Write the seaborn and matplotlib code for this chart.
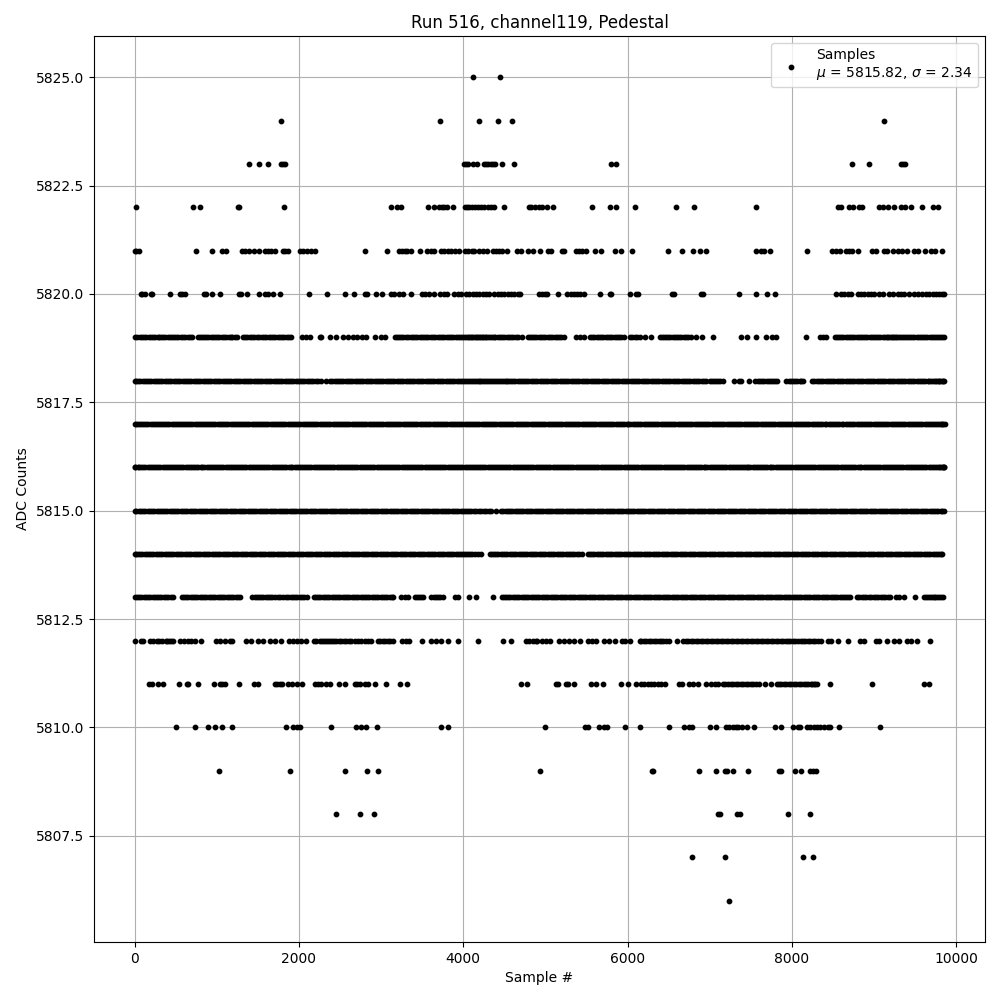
import pandas as pd
import matplotlib
matplotlib.use("Agg")
import matplotlib.pyplot as plt
import seaborn as sns

# sample numbers, one list per ADC level
x_5825 = [4115, 4443]
x_5824 = [1782, 3714, 4188, 4419, 4589, 9115]
x_5823 = [1393, 1515, 1624, 1786, 1806, 1835, 4005, 4030, 4054, 4115, 4164, 4248, 4277, 4305, 4334, 4358, 4386, 4467,
          4613, 5802, 5855, 8735, 8933, 9325, 9345, 9369]
x_5822 = [20, 713, 798, 1255, 1270, 1818, 3118, 3191, 3244, 3576, 3641, 3710, 3742, 3770, 3799, 3872, 4018, 4042, 4074,
          4107, 4139, 4175, 4216, 4256, 4297, 4337, 4378, 4491, 4795, 4820, 4876, 4917, 4954, 5022, 5091, 5564, 5790,
          5855, 6085, 6594, 6812, 7563, 8557, 8597, 8699, 8739, 8820, 8852, 9054, 9103, 9167, 9236, 9325, 9377, 9446,
          9583, 9721, 9781]
x_5821 = [0, 24, 53, 749, 944, 1069, 1110, 1304, 1345, 1393, 1454, 1515, 1584, 1624, 1665, 1705, 1806, 1835, 1867, 2009,
          2049, 2098, 2151, 2199, 2803, 3070, 3224, 3256, 3285, 3317, 3366, 3471, 3556, 3608, 3649, 3730, 3770, 3811,
          3852, 3904, 3945, 4022, 4054, 4107, 4135, 4188, 4236, 4289, 4358, 4398, 4439, 4471, 4528, 4649, 4702, 4783,
          4848, 4933, 5030, 5071, 5196, 5224, 5374, 5414, 5447, 5495, 5600, 5673, 5851, 5915, 6053, 6485, 6659, 6800,
          6885, 6949, 7563, 7628, 7660, 7737, 8182, 8489, 8529, 8586, 8658, 8699, 8731, 8800, 8969, 9022, 9115, 9151,
          9224, 9285, 9337, 9398, 9487, 9527, 9620, 9689, 9741, 9822]
x_5820 = [73, 97, 126, 200, 215, 433, 551, 583, 620, 842, 875, 944, 1041, 1268, 1300, 1369, 1515, 1584, 1624, 1685,
          1770, 2122, 2341, 2560, 2669, 2799, 2831, 2936, 3009, 3122, 3163, 3224, 3264, 3366, 3499, 3540, 3580, 3641,
          3714, 3770, 3799, 3892, 3933, 3973, 4034, 4074, 4115, 4155, 4196, 4236, 4277, 4309, 4378, 4419, 4459, 4500,
          4540, 4581, 4621, 4661, 4694, 4917, 4961, 4990, 5022, 5148, 5265, 5305, 5346, 5386, 5418, 5467, 5661, 5782,
          5798, 6024, 6105, 6125, 6545, 6565, 6889, 6913, 7357, 7563, 7697, 7794, 8533, 8597, 8638, 8678, 8719, 8800,
          8840, 8881, 8921, 8961, 9002, 9054, 9111, 9175, 9224, 9285, 9325, 9365, 9426, 9487, 9527, 9579, 9628, 9668,
          9709, 9749, 9790, 9830, 9854]
x_5819 = [0, 28, 61, 118, 172, 225, 283, 322, 376, 430, 481, 534, 590, 648, 702, 770, 818, 868, 925, 978, 1032, 1090,
          1145, 1192, 1248, 1320, 1372, 1428, 1490, 1550, 1602, 1660, 1715, 1770, 1824, 1880, 1908, 2041, 2090, 2138,
          2255, 2275, 2373, 2446, 2535, 2596, 2657, 2710, 2765, 2819, 2932, 3001, 3050, 3167, 3220, 3272, 3330, 3385,
          3440, 3495, 3550, 3602, 3660, 3715, 3770, 3822, 3880, 3934, 3990, 4030, 4075, 4112, 4150, 4188, 4225, 4262,
          4300, 4345, 4392, 4446, 4500, 4552, 4610, 4665, 4710, 4783, 4835, 4890, 4945, 5000, 5055, 5110, 5165, 5224,
          5374, 5420, 5467, 5539, 5592, 5650, 5702, 5760, 5812, 5870, 5925, 5951, 6032, 6085, 6150, 6214, 6283, 6388,
          6440, 6490, 6550, 6600, 6655, 6710, 6770, 6830, 6900, 7034, 7382, 7454, 7567, 7689, 7757, 7810, 8169, 8343,
          8375, 8408, 8517, 8570, 8625, 8680, 8732, 8785, 8838, 8890, 8945, 8998, 9050, 9102, 9150, 9190, 9232, 9270,
          9312, 9360, 9410, 9462, 9515, 9570, 9622, 9675, 9728, 9780, 9830, 9850]
x_5819_fill = [90, 145, 198, 254, 302, 350, 403, 456, 508, 562, 619, 675, 794, 843, 897, 951, 1005, 1061, 1118, 1168,
               1220, 1346, 1400, 1459, 1520, 1576, 1631, 1688, 1743, 1797, 1852, 3194, 3246, 3301, 3358, 3413, 3468,
               3523, 3576, 3631, 3688, 3743, 3796, 3851, 3907, 3962, 4010, 4052, 4094, 4131, 4169, 4207, 4244, 4281,
               4322, 4369, 4419, 4473, 4526, 4581, 4638, 4809, 4862, 4918, 4972, 5028, 5083, 5138, 5195, 5565, 5621,
               5676, 5731, 5786, 5841, 5898, 6058, 6118, 6414, 6465, 6520, 6575, 6628, 6683, 6740, 8544, 8598, 8652,
               8706, 8759, 8812, 8864, 8918, 8972, 9024, 9076, 9126, 9170, 9211, 9251, 9291, 9336, 9385, 9436, 9488,
               9542, 9596, 9648, 9701, 9754, 9805]
x_5818 = [0, 22, 70, 126, 178, 232, 288, 340, 392, 450, 503, 558, 612, 665, 720, 775, 828, 882, 936, 990, 1044, 1098,
          1152, 1206, 1260, 1314, 1368, 1422, 1476, 1530, 1584, 1638, 1692, 1746, 1800, 1852, 1906, 1960, 2014, 2068,
          2122, 2176, 2230, 2272, 2333, 2381, 2434, 2488, 2542, 2596, 2650, 2704, 2758, 2812, 2866, 2920, 2974, 3028,
          3082, 3136, 3190, 3244, 3298, 3352, 3406, 3460, 3514, 3568, 3622, 3676, 3730, 3784, 3838, 3892, 3946, 4000,
          4048, 4096, 4140, 4186, 4232, 4278, 4324, 4370, 4418, 4466, 4514, 4562, 4610, 4660, 4712, 4766, 4820, 4874,
          4928, 4982, 5036, 5090, 5144, 5198, 5252, 5306, 5360, 5414, 5468, 5522, 5576, 5630, 5684, 5738, 5792, 5846,
          5900, 5954, 6008, 6062, 6116, 6170, 6224, 6278, 6332, 6386, 6440, 6494, 6548, 6602, 6656, 6710, 6764, 6818,
          6872, 6926, 6953, 7002, 7050, 7103, 7155, 7293, 7357, 7374, 7478, 7555, 7610, 7664, 7718, 7772, 7818, 7931,
          7985, 8039, 8093, 8133, 8246, 8300, 8354, 8408, 8462, 8516, 8570, 8624, 8678, 8732, 8786, 8840, 8894, 8948,
          9002, 9056, 9110, 9164, 9218, 9272, 9326, 9380, 9434, 9488, 9542, 9596, 9650, 9695, 9735, 9770, 9800, 9825,
          9842, 9853]
x_5818_fill = [47, 98, 152, 205, 260, 314, 366, 421, 476, 530, 585, 638, 692, 747, 801, 855, 909, 963, 1017, 1071,
               1125, 1179, 1233, 1287, 1341, 1395, 1449, 1503, 1557, 1611, 1665, 1719, 1773, 1826, 1879, 1933, 1987,
               2041, 2095, 2149, 2203, 2407, 2461, 2515, 2569, 2623, 2677, 2731, 2785, 2839, 2893, 2947, 3001, 3055,
               3109, 3163, 3217, 3271, 3325, 3379, 3433, 3487, 3541, 3595, 3649, 3703, 3757, 3811, 3865, 3919, 3973,
               4024, 4072, 4118, 4163, 4209, 4255, 4301, 4347, 4394, 4442, 4490, 4538, 4586, 4635, 4686, 4739, 4793,
               4847, 4901, 4955, 5009, 5063, 5117, 5171, 5225, 5279, 5333, 5387, 5441, 5495, 5549, 5603, 5657, 5711,
               5765, 5819, 5873, 5927, 5981, 6035, 6089, 6143, 6197, 6251, 6305, 6359, 6413, 6467, 6521, 6575, 6629,
               6683, 6737, 6791, 6845, 6899, 7026, 7076, 7129, 7583, 7637, 7691, 7745, 7795, 7958, 8012, 8066, 8113,
               8273, 8327, 8381, 8435, 8489, 8543, 8597, 8651, 8705, 8759, 8813, 8867, 8921, 8975, 9029, 9083, 9137,
               9191, 9245, 9299, 9353, 9407, 9461, 9515, 9569, 9623, 9672, 9715, 9752, 9785]
x_5817 = [0, 14, 42, 95, 140, 198, 246, 301, 352, 396, 451, 503, 548, 604, 655, 702, 758, 806, 861, 909, 957, 1012,
          1065, 1113, 1170, 1219, 1266, 1322, 1371, 1424, 1473, 1528, 1579, 1627, 1684, 1732, 1786, 1835, 1891, 1940,
          1992, 2046, 2094, 2150, 2199, 2253, 2305, 2352, 2410, 2458, 2511, 2563, 2612, 2668, 2716, 2771, 2820, 2875,
          2923, 2978, 3027, 3082, 3131, 3186, 3235, 3290, 3338, 3394, 3443, 3497, 3546, 3601, 3650, 3705, 3754, 3808,
          3857, 3912, 3961, 4016, 4065, 4120, 4168, 4223, 4272, 4327, 4376, 4431, 4480, 4534, 4583, 4638, 4687, 4742,
          4790, 4845, 4894, 4949, 4998, 5053, 5101, 5156, 5205, 5260, 5309, 5364, 5412, 5467, 5516, 5571, 5620, 5675,
          5723, 5778, 5827, 5882, 5931, 5986, 6034, 6089, 6138, 6193, 6242, 6297, 6345, 6400, 6449, 6504, 6553, 6608,
          6656, 6711, 6760, 6815, 6864, 6919, 6967, 7022, 7071, 7126, 7175, 7230, 7278, 7333, 7382, 7437, 7486, 7541,
          7589, 7644, 7693, 7748, 7797, 7852, 7900, 7955, 8004, 8059, 8108, 8163, 8211, 8266, 8315, 8370, 8419, 8474,
          8522, 8577, 8626, 8681, 8730, 8785, 8833, 8888, 8937, 8992, 9041, 9096, 9144, 9199, 9248, 9303, 9352, 9407,
          9455, 9510, 9559, 9614, 9663, 9718, 9766, 9812, 9841, 9855]
x_5817_fill = [68, 118, 169, 222, 274, 326, 374, 424, 477, 526, 576, 630, 678, 730, 782, 834, 885, 933, 985, 1038,
               1089, 1142, 1195, 1243, 1294, 1347, 1398, 1449, 1501, 1554, 1603, 1656, 1708, 1759, 1811, 1863, 1916,
               1966, 2019, 2070, 2122, 2175, 2226, 2279, 2329, 2381, 2434, 2487, 2540, 2590, 2642, 2692, 2744, 2796,
               2848, 2899, 2951, 3003, 3055, 3107, 3159, 3211, 3263, 3314, 3366, 3418, 3470, 3522, 3574, 3626, 3678,
               3730, 3781, 3833, 3885, 3937, 3989, 4041, 4093, 4144, 4196, 4248, 4300, 4352, 4404, 4456, 4507, 4559,
               4611, 4663, 4715, 4766, 4818, 4870, 4922, 4974, 5026, 5077, 5129, 5181, 5233, 5285, 5337, 5388, 5440,
               5492, 5544, 5596, 5648, 5699, 5751, 5803, 5855, 5907, 5959, 6010, 6062, 6114, 6166, 6218, 6270, 6321,
               6373, 6425, 6477, 6529, 6581, 6632, 6684, 6736, 6788, 6840, 6892, 6943, 6995, 7047, 7099, 7151, 7203,
               7254, 7306, 7358, 7410, 7462, 7514, 7565, 7617, 7669, 7721, 7773, 7825, 7876, 7928, 7980, 8032, 8084,
               8136, 8187, 8239, 8291, 8343, 8395, 8447, 8498, 8550, 8602, 8654, 8706, 8758, 8809, 8861, 8913, 8965,
               9017, 9069, 9120, 9172, 9224, 9276, 9328, 9380, 9431, 9483, 9535, 9587, 9639, 9691, 9742, 9790, 9828]
x_5816 = [0, 9, 37, 84, 133, 187, 238, 289, 344, 391, 442, 497, 545, 596, 650, 698, 749, 803, 851, 902, 956, 1004,
          1055, 1109, 1157, 1208, 1262, 1310, 1361, 1415, 1463, 1514, 1568, 1616, 1667, 1721, 1769, 1820, 1874, 1922,
          1973, 2027, 2075, 2126, 2180, 2228, 2279, 2333, 2381, 2432, 2486, 2534, 2585, 2639, 2687, 2738, 2792, 2840,
          2891, 2945, 2993, 3044, 3098, 3146, 3197, 3251, 3299, 3350, 3404, 3452, 3503, 3557, 3605, 3656, 3710, 3758,
          3809, 3863, 3911, 3962, 4016, 4064, 4115, 4169, 4217, 4268, 4322, 4370, 4421, 4475, 4523, 4574, 4628, 4676,
          4727, 4781, 4829, 4880, 4934, 4982, 5033, 5087, 5135, 5186, 5240, 5288, 5339, 5393, 5441, 5492, 5546, 5594,
          5645, 5699, 5747, 5798, 5852, 5900, 5951, 6005, 6053, 6104, 6158, 6206, 6257, 6311, 6359, 6410, 6464, 6512,
          6563, 6617, 6665, 6716, 6770, 6818, 6869, 6923, 6971, 7022, 7076, 7124, 7175, 7229, 7277, 7328, 7382, 7430,
          7462, 7520, 7573, 7621, 7672, 7726, 7774, 7825, 7879, 7927, 7978, 8032, 8080, 8131, 8185, 8233, 8284, 8338,
          8386, 8437, 8491, 8539, 8590, 8644, 8692, 8743, 8797, 8845, 8896, 8950, 8998, 9049, 9103, 9151, 9202, 9256,
          9304, 9355, 9409, 9457, 9508, 9562, 9610, 9661, 9715, 9763, 9806, 9838, 9854]
x_5816_fill = [60, 108, 160, 212, 264, 316, 367, 416, 470, 521, 570, 623, 674, 723, 776, 827, 876, 929, 980, 1030,
               1082, 1133, 1182, 1235, 1286, 1336, 1389, 1439, 1488, 1541, 1592, 1641, 1694, 1745, 1794, 1847, 1898,
               1947, 2000, 2051, 2100, 2153, 2204, 2253, 2306, 2357, 2406, 2459, 2510, 2559, 2612, 2663, 2712, 2765,
               2816, 2865, 2918, 2969, 3018, 3071, 3122, 3171, 3224, 3275, 3324, 3377, 3428, 3477, 3530, 3581, 3630,
               3683, 3734, 3783, 3836, 3887, 3936, 3989, 4040, 4089, 4142, 4193, 4242, 4295, 4346, 4395, 4448, 4499,
               4548, 4601, 4652, 4701, 4754, 4805, 4854, 4907, 4958, 5007, 5060, 5111, 5160, 5213, 5264, 5313, 5366,
               5417, 5466, 5519, 5570, 5619, 5672, 5723, 5772, 5825, 5876, 5925, 5978, 6029, 6078, 6131, 6182, 6231,
               6284, 6335, 6384, 6437, 6488, 6537, 6590, 6641, 6690, 6743, 6794, 6843, 6896, 6947, 6996, 7049, 7100,
               7149, 7202, 7253, 7302, 7355, 7406, 7446, 7491, 7546, 7597, 7646, 7699, 7750, 7799, 7852, 7903, 7952,
               8005, 8056, 8105, 8158, 8209, 8258, 8311, 8362, 8411, 8464, 8515, 8564, 8617, 8668, 8717, 8770, 8821,
               8870, 8923, 8974, 9023, 9076, 9127, 9176, 9229, 9280, 9329, 9382, 9433, 9482, 9535, 9586, 9635, 9688,
               9739, 9785, 9822, 9846]
x_5815 = [0, 17, 52, 106, 159, 211, 268, 320, 371, 428, 483, 535, 588, 644, 700, 752, 806, 858, 915, 968, 1022, 1078,
          1130, 1186, 1240, 1292, 1348, 1402, 1456, 1510, 1564, 1618, 1672, 1726, 1780, 1834, 1888, 1942, 1996, 2050,
          2104, 2158, 2212, 2266, 2320, 2374, 2428, 2482, 2536, 2590, 2644, 2698, 2752, 2806, 2860, 2914, 2968, 3022,
          3076, 3130, 3184, 3238, 3292, 3346, 3400, 3454, 3508, 3562, 3616, 3670, 3724, 3778, 3832, 3886, 3940, 3994,
          4048, 4100, 4160, 4220, 4280, 4340, 4398, 4462, 4516, 4570, 4624, 4678, 4732, 4786, 4840, 4894, 4948, 5002,
          5056, 5110, 5164, 5218, 5272, 5326, 5380, 5434, 5488, 5542, 5596, 5650, 5704, 5758, 5812, 5866, 5920, 5974,
          6028, 6082, 6136, 6190, 6244, 6298, 6352, 6406, 6460, 6514, 6568, 6622, 6676, 6730, 6784, 6838, 6892, 6946,
          7000, 7054, 7108, 7162, 7216, 7270, 7324, 7378, 7432, 7486, 7540, 7594, 7648, 7702, 7756, 7810, 7864, 7918,
          7972, 8026, 8080, 8134, 8188, 8242, 8296, 8350, 8404, 8458, 8512, 8566, 8620, 8674, 8728, 8782, 8836, 8890,
          8944, 8998, 9052, 9106, 9160, 9214, 9268, 9322, 9376, 9430, 9484, 9538, 9592, 9646, 9700, 9754, 9808, 9848]
x_5815_fill = [79, 133, 185, 240, 294, 346, 400, 455, 509, 561, 616, 672, 726, 779, 832, 887, 941, 995, 1050, 1104,
               1158, 1213, 1266, 1320, 1375, 1429, 1483, 1537, 1591, 1645, 1699, 1753, 1807, 1861, 1915, 1969, 2023,
               2077, 2131, 2185, 2239, 2293, 2347, 2401, 2455, 2509, 2563, 2617, 2671, 2725, 2779, 2833, 2887, 2941,
               2995, 3049, 3103, 3157, 3211, 3265, 3319, 3373, 3427, 3481, 3535, 3589, 3643, 3697, 3751, 3805, 3859,
               3913, 3967, 4021, 4074, 4130, 4190, 4250, 4310, 4489, 4543, 4597, 4651, 4705, 4759, 4813, 4867, 4921,
               4975, 5029, 5083, 5137, 5191, 5245, 5299, 5353, 5407, 5461, 5515, 5569, 5623, 5677, 5731, 5785, 5839,
               5893, 5947, 6001, 6055, 6109, 6163, 6217, 6271, 6325, 6379, 6433, 6487, 6541, 6595, 6649, 6703, 6757,
               6811, 6865, 6919, 6973, 7027, 7081, 7135, 7189, 7243, 7297, 7351, 7405, 7459, 7513, 7567, 7621, 7675,
               7729, 7783, 7837, 7891, 7945, 7999, 8053, 8107, 8161, 8215, 8269, 8323, 8377, 8431, 8485, 8539, 8593,
               8647, 8701, 8755, 8809, 8863, 8917, 8971, 9025, 9079, 9133, 9187, 9241, 9295, 9349, 9403, 9457, 9511,
               9565, 9619, 9673, 9727, 9781, 9830]
x_5814 = [0, 19, 66, 122, 175, 231, 284, 339, 392, 448, 501, 557, 610, 666, 719, 775, 828, 884, 937, 993, 1046, 1102,
          1155, 1211, 1264, 1320, 1373, 1429, 1482, 1538, 1591, 1647, 1700, 1756, 1809, 1865, 1918, 1974, 2027, 2083,
          2136, 2192, 2245, 2301, 2354, 2410, 2463, 2519, 2572, 2628, 2681, 2737, 2790, 2846, 2899, 2955, 3008, 3064,
          3117, 3173, 3226, 3282, 3335, 3391, 3444, 3500, 3553, 3609, 3662, 3718, 3771, 3827, 3880, 3936, 3989, 4035,
          4085, 4140, 4216, 4330, 4375, 4428, 4481, 4537, 4590, 4646, 4699, 4755, 4808, 4864, 4917, 4973, 5026, 5082,
          5135, 5191, 5244, 5300, 5353, 5409, 5445, 5515, 5570, 5623, 5679, 5732, 5788, 5841, 5897, 5950, 6006, 6059,
          6115, 6168, 6224, 6277, 6333, 6386, 6442, 6495, 6551, 6604, 6660, 6713, 6769, 6822, 6878, 6931, 6987, 7040,
          7096, 7149, 7205, 7258, 7314, 7367, 7423, 7476, 7532, 7585, 7641, 7694, 7750, 7803, 7859, 7912, 7968, 8021,
          8077, 8130, 8186, 8239, 8295, 8348, 8404, 8457, 8513, 8566, 8622, 8675, 8731, 8784, 8840, 8893, 8949, 9002,
          9058, 9111, 9167, 9220, 9276, 9329, 9385, 9438, 9494, 9547, 9603, 9656, 9712, 9765, 9815, 9830]
x_5814_fill = [43, 94, 148, 203, 257, 311, 365, 420, 474, 529, 583, 638, 692, 747, 801, 856, 910, 965, 1019, 1074,
               1128, 1183, 1237, 1292, 1346, 1401, 1455, 1510, 1564, 1619, 1673, 1728, 1782, 1837, 1891, 1946, 2000,
               2055, 2109, 2164, 2218, 2273, 2327, 2382, 2436, 2491, 2545, 2600, 2654, 2709, 2763, 2818, 2872, 2927,
               2981, 3036, 3090, 3145, 3199, 3254, 3308, 3363, 3417, 3472, 3526, 3581, 3635, 3690, 3744, 3799, 3853,
               3908, 3962, 4012, 4060, 4112, 4178, 4352, 4401, 4454, 4509, 4563, 4618, 4672, 4727, 4781, 4836, 4890,
               4945, 4999, 5054, 5108, 5163, 5217, 5272, 5326, 5381, 5542, 5596, 5651, 5705, 5760, 5814, 5869, 5923,
               5978, 6032, 6087, 6141, 6196, 6250, 6305, 6359, 6414, 6468, 6523, 6577, 6632, 6686, 6741, 6795, 6850,
               6904, 6959, 7013, 7068, 7122, 7177, 7231, 7286, 7340, 7395, 7449, 7504, 7558, 7613, 7667, 7722, 7776,
               7831, 7885, 7940, 7994, 8049, 8103, 8158, 8212, 8267, 8321, 8376, 8430, 8485, 8539, 8594, 8648, 8703,
               8757, 8812, 8866, 8921, 8975, 9030, 9084, 9139, 9193, 9248, 9302, 9357, 9411, 9466, 9520, 9575, 9629,
               9684, 9738, 9790]
x_5813 = [0, 32, 85, 140, 193, 248, 301, 356, 409, 470, 575, 628, 684, 737, 793, 846, 902, 955, 1011, 1064, 1120, 1173,
          1229, 1280, 1434, 1487, 1543, 1596, 1652, 1705, 1774, 1847, 1900, 1954, 2008, 2062, 2098, 2179, 2232, 2288,
          2341, 2397, 2450, 2506, 2559, 2615, 2668, 2724, 2777, 2833, 2886, 2942, 2995, 3051, 3104, 3150, 3248, 3290,
          3333, 3418, 3466, 3515, 3612, 3670, 3720, 3750, 3896, 3940, 4074, 4150, 4358, 4470, 4520, 4574, 4627, 4683,
          4736, 4792, 4845, 4901, 4954, 5010, 5063, 5119, 5172, 5228, 5281, 5337, 5390, 5446, 5499, 5555, 5608, 5664,
          5717, 5773, 5826, 5882, 5935, 5991, 6044, 6100, 6153, 6209, 6262, 6318, 6371, 6427, 6480, 6536, 6589, 6645,
          6698, 6754, 6807, 6863, 6916, 6972, 7025, 7081, 7134, 7190, 7243, 7299, 7352, 7408, 7461, 7517, 7570, 7626,
          7679, 7735, 7788, 7844, 7897, 7953, 8006, 8062, 8115, 8171, 8224, 8280, 8333, 8389, 8442, 8498, 8551, 8607,
          8660, 8707, 8792, 8850, 8905, 8965, 9022, 9078, 9135, 9190, 9264, 9305, 9365, 9499, 9600, 9650, 9705, 9745,
          9790, 9842]
x_5813_fill = [58, 112, 166, 220, 274, 328, 382, 440, 601, 656, 710, 765, 819, 874, 928, 983, 1037, 1092, 1146, 1201,
               1255, 1460, 1515, 1569, 1624, 1678, 1740, 1810, 1873, 1927, 1981, 2035, 2205, 2260, 2314, 2369, 2423,
               2478, 2532, 2587, 2641, 2696, 2750, 2805, 2859, 2914, 2968, 3023, 3077, 3127, 3442, 3490, 3640, 3695,
               4497, 4547, 4600, 4655, 4709, 4764, 4818, 4873, 4927, 4982, 5036, 5091, 5145, 5200, 5254, 5309, 5363,
               5418, 5472, 5527, 5581, 5636, 5690, 5745, 5799, 5854, 5908, 5963, 6017, 6072, 6126, 6181, 6235, 6290,
               6344, 6399, 6453, 6508, 6562, 6617, 6671, 6726, 6780, 6835, 6889, 6944, 6998, 7053, 7107, 7162, 7216,
               7271, 7325, 7380, 7434, 7489, 7543, 7598, 7652, 7707, 7761, 7816, 7870, 7925, 7979, 8034, 8088, 8143,
               8197, 8252, 8306, 8361, 8415, 8470, 8524, 8579, 8633, 8684, 8820, 8878, 8935, 8994, 9050, 9107, 9162,
               9625, 9678, 9725, 9768, 9815]
x_5812 = [8, 85, 105, 186, 227, 275, 340, 381, 421, 470, 559, 599, 652, 693, 733, 814, 996, 1037, 1098, 1158, 1191,
          1361, 1422, 1503, 1563, 1644, 1705, 1778, 1879, 1928, 1976, 2029, 2082, 2211, 2252, 2300, 2353, 2402, 2454,
          2515, 2576, 2637, 2677, 2718, 2758, 2799, 2839, 2880, 2961, 3021, 3082, 3143, 3256, 3305, 3337, 3495, 3608,
          3669, 3730, 3811, 3933, 4176, 4479, 4581, 4763, 4803, 4844, 4884, 4901, 4962, 5002, 5055, 5164, 5224, 5285,
          5346, 5426, 5515, 5568, 5620, 5709, 5770, 5842, 5931, 5972, 6024, 6145, 6194, 6255, 6315, 6376, 6436, 6497,
          6606, 6679, 6739, 6800, 6861, 6921, 6982, 7042, 7103, 7164, 7224, 7285, 7345, 7406, 7467, 7527, 7588, 7648,
          7709, 7770, 7830, 7891, 7951, 8012, 8073, 8133, 8194, 8254, 8315, 8355, 8436, 8477, 8557, 8679, 8828, 8872,
          9022, 9062, 9151, 9244, 9297, 9394, 9446, 9515, 9684]
x_5812_fill = [300, 400, 445, 2180, 2276, 2327, 2378, 2428, 2485, 2545, 2606, 2990, 3051, 3112, 6165, 6225, 6285, 6345,
               6406, 6466, 6709, 6769, 6830, 6891, 6951, 7012, 7072, 7133, 7194, 7254, 7315, 7375, 7436, 7497, 7557,
               7618, 7678, 7739, 7800, 7860, 7921, 7981, 8042, 8103, 8163, 8224, 8284]
x_5811 = [174, 215, 288, 348, 543, 635, 655, 774, 972, 1037, 1069, 1098, 1276, 1454, 1507, 1705, 1733, 1766, 1794,
          1867, 1920, 1976, 2037, 2191, 2231, 2272, 2325, 2373, 2487, 2560, 2677, 2705, 2738, 2799, 2839, 2924, 3058,
          3228, 3317, 4706, 4771, 5123, 5156, 5244, 5273, 5346, 5552, 5616, 5705, 5915, 6004, 6105, 6162, 6202, 6242,
          6283, 6323, 6364, 6404, 6452, 6626, 6667, 6751, 6800, 6861, 6953, 7010, 7063, 7103, 7164, 7224, 7285, 7345,
          7406, 7467, 7527, 7600, 7673, 7749, 7818, 7871, 7931, 7992, 8052, 8113, 8174, 8226, 8266, 8303, 8460, 8969,
          9600, 9672]
x_5811_fill = [7190, 7255, 7315, 7375, 7436, 7497, 7560, 7840, 7900, 7961, 8022, 8083, 8143, 8200, 8246, 8285]
x_5810 = [506, 737, 895, 984, 1069, 1187, 1847, 1928, 1976, 2017, 2390, 2693, 2754, 2815, 2948, 3726, 3815, 4994, 5475,
          5515, 5648, 5709, 5750, 5972, 6145, 6505, 6687, 6751, 6780, 7006, 7071, 7196, 7236, 7277, 7317, 7345, 7386,
          7454, 7535, 7790, 7871, 8008, 8073, 8101, 8182, 8222, 8262, 8303, 8343, 8384, 8436, 8456, 8569, 9066]
x_5809 = [1029, 1891, 2560, 2827, 2961, 4933, 6295, 6310, 6873, 7079, 7184, 7212, 7285, 7467, 7840, 7860, 8036, 8105,
          8222, 8254, 8295]
x_5808 = [2450, 2742, 2912, 7105, 7120, 7333, 7366, 7951, 8218]
x_5807 = [6788, 7188, 8133, 8254]
x_5806 = [7236]

levels = {5825: x_5825, 5824: x_5824, 5823: x_5823, 5822: x_5822, 5821: x_5821, 5820: x_5820,
          5819: x_5819 + x_5819_fill, 5818: x_5818 + x_5818_fill, 5817: x_5817 + x_5817_fill,
          5816: x_5816 + x_5816_fill, 5815: x_5815 + x_5815_fill, 5814: x_5814 + x_5814_fill,
          5813: x_5813 + x_5813_fill, 5812: x_5812 + x_5812_fill, 5811: x_5811 + x_5811_fill,
          5810: x_5810, 5809: x_5809, 5808: x_5808, 5807: x_5807, 5806: x_5806}

df = pd.DataFrame([(s, adc) for adc, xs in levels.items() for s in xs], columns=["sample", "adc"])

fig, ax = plt.subplots(figsize=(10, 10), dpi=100)
sns.scatterplot(data=df, x="sample", y="adc", ax=ax, color="k", marker=".", s=40, edgecolor="k", linewidth=1,
                zorder=3, label="Samples\n$\\mu$ = 5815.82, $\\sigma$ = 2.34")
ax.set_title("Run 516, channel119, Pedestal")
ax.set_xlabel("Sample #")
ax.set_ylabel("ADC Counts")
ax.grid(True)
ax.legend(loc="upper right")
fig.subplots_adjust(left=0.094, right=0.985, top=0.964, bottom=0.058)
fig.savefig("out.png", dpi=100)
